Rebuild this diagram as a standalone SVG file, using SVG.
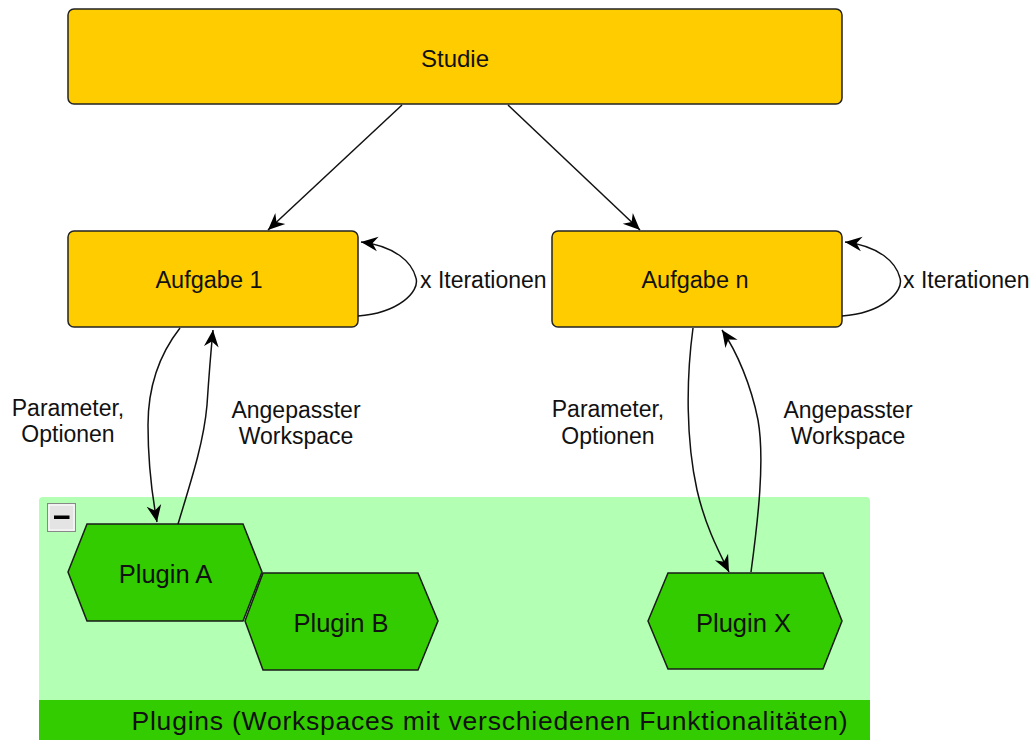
<svg xmlns="http://www.w3.org/2000/svg" width="1032" height="740" viewBox="0 0 1032 740">
<style>
  .task { fill: #FFCC00; stroke: #222; stroke-width: 1.5; }
  .hex { fill: #33CC00; stroke: #1a1a1a; stroke-width: 1.5; }
  .lbl { font-family: "Liberation Sans", Arial, sans-serif; fill: #111; text-anchor: middle; }
  .edge { fill: none; stroke: #111; stroke-width: 1.5; marker-end: url(#arrow); }
</style>
<defs>
  <marker id="arrow" markerUnits="userSpaceOnUse" markerWidth="20" markerHeight="20" viewBox="-17 -8 19 16" refX="0" refY="0" orient="auto">
    <path d="M0,0 L-16,-7 L-11,0 L-16,7 Z" fill="#000"/>
  </marker>
</defs>
<rect width="1032" height="740" fill="#fff"/>

<g id="plugins-group">
  <path d="M39,501 Q39,497 43,497 L866,497 Q870,497 870,501 L870,740 L39,740 Z" fill="#B3FFB3"/>
  <rect x="39" y="700" width="831" height="40" fill="#33CC00"/>
  <text class="lbl" x="131.5" y="730" font-size="26.5" style="text-anchor:start" textLength="716" lengthAdjust="spacing">Plugins (Workspaces mit verschiedenen Funktionalitäten)</text>
  <rect x="47.5" y="503.5" width="28" height="28" fill="#E4E4E4" stroke="#888" stroke-width="1"/>
  <rect x="49" y="505" width="25" height="25" fill="none" stroke="#fff" stroke-width="1"/>
  <rect x="54" y="515.5" width="15.5" height="3.5" fill="#000"/>
</g>

<g id="studie">
  <rect class="task" x="68" y="9" width="774" height="95" rx="6"/>
  <text class="lbl" x="455" y="67" font-size="24">Studie</text>
</g>

<g id="aufgabe1">
  <rect class="task" x="68" y="231" width="290" height="96" rx="6"/>
  <text class="lbl" x="209" y="288" font-size="23.5">Aufgabe 1</text>
</g>

<g id="aufgaben">
  <rect class="task" x="552" y="231" width="290" height="96" rx="6"/>
  <text class="lbl" x="695" y="288" font-size="23.5">Aufgabe n</text>
</g>

<g id="pluginA">
  <polygon class="hex" points="68,572 87,524 243,524 262,572 243,621 87,621"/>
  <text class="lbl" x="165.5" y="583" font-size="25.5">Plugin A</text>
</g>

<g id="pluginB">
  <polygon class="hex" points="245,621 263,573 418,573 438,621 418,670 263,670"/>
  <text class="lbl" x="341" y="632" font-size="25.5">Plugin B</text>
</g>

<g id="pluginX">
  <polygon class="hex" points="648,621 668,573 823,573 842,621 823,669 668,669"/>
  <text class="lbl" x="743.5" y="632" font-size="25.5">Plugin X</text>
</g>

<g id="connectors">
  <path class="edge" d="M402,105 L268,230"/>
  <path class="edge" d="M508,105 L640,230"/>
  <path class="edge" d="M358,316 C398,313 420,292 416,278 C412,262 395,246 361,242"/>
  <path class="edge" d="M842,316 C882,313 904,292 900,278 C896,262 879,246 845,242"/>
  <path class="edge" d="M180,328 C155,360 148,395 148,425 C148,460 152,495 157,522"/>
  <path class="edge" d="M178,524 C193,475 204,440 207,405 C209,375 211,350 213,330"/>
  <path class="edge" d="M693,328 C686,380 686,440 697,490 C705,525 718,550 729,572"/>
  <path class="edge" d="M751,572 C758,520 765,460 758,420 C751,385 737,352 722,330"/>
  <text class="lbl" x="420" y="288" font-size="23" style="text-anchor:start">x Iterationen</text>
  <text class="lbl" x="903" y="288" font-size="23" style="text-anchor:start">x Iterationen</text>
  <text class="lbl" x="68" y="416" font-size="23">Parameter,</text>
  <text class="lbl" x="68" y="442" font-size="23">Optionen</text>
  <text class="lbl" x="296" y="418" font-size="23">Angepasster</text>
  <text class="lbl" x="296" y="444" font-size="23">Workspace</text>
  <text class="lbl" x="608" y="417" font-size="23">Parameter,</text>
  <text class="lbl" x="608" y="444" font-size="23">Optionen</text>
  <text class="lbl" x="848" y="418" font-size="23">Angepasster</text>
  <text class="lbl" x="848" y="444" font-size="23">Workspace</text>
</g>
</svg>
